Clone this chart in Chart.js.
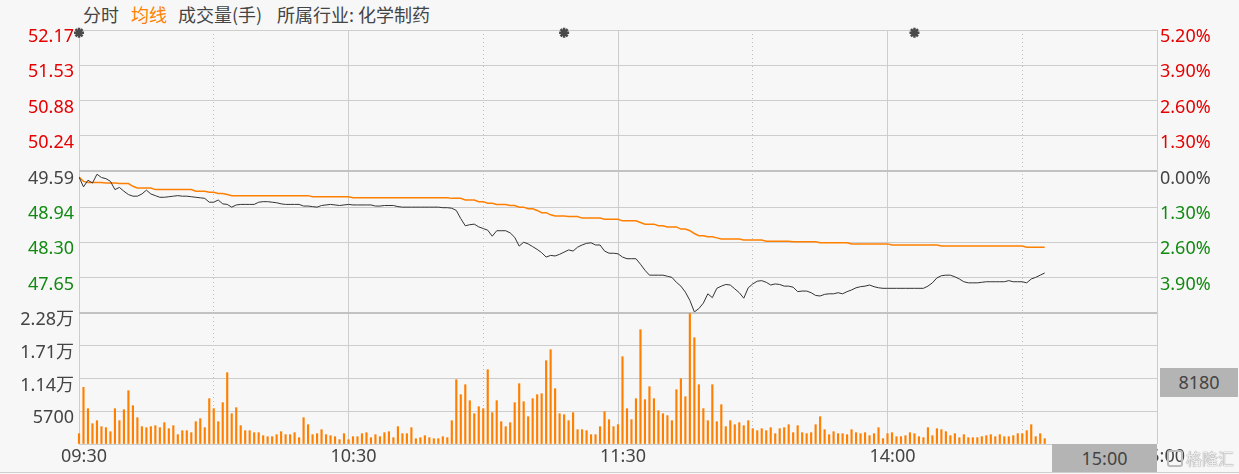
<!DOCTYPE html>
<html>
<head>
<meta charset="utf-8">
<script src="https://cdn.jsdelivr.net/npm/chart.js@4.4.1/dist/chart.umd.min.js"></script>
<style>
body { margin: 0; background: #f7f7f7; width: 1239px; height: 474px; overflow: hidden; position: relative; font-family: "Noto Sans", "Noto Sans CJK SC", sans-serif; }
.lg { position: absolute; top: 4px; line-height: 20px; font-size: 18px; color: #444; font-family: "Noto Sans CJK SC", sans-serif; white-space: nowrap; }
canvas { position: absolute; left: 0; }
#priceCanvas { top: 0; }
#volCanvas { top: 303px; }
.box { position: absolute; background: #b4b4b4; color: #444; font-size: 18px; text-align: center; }
#markIcon { position: absolute; left: 1167px; top: 450px; width: 12px; height: 13px; border: 2px solid #bcbcbc; border-radius: 3px; }
#mark { position: absolute; left: 1186px; top: 446px; line-height: 24px; font-size: 16px; color: #eeeeee; text-shadow: 0 0 1px #8f8f8f, 0 0 1px #8f8f8f; font-family: "Noto Sans CJK SC", sans-serif; }
#bottomLine { position: absolute; left: 0; top: 472px; width: 1239px; height: 1px; background: #d0d0d0; }
</style>
</head>
<body>
<div class="lg" style="left:83px">分时</div>
<div class="lg" style="left:131px;color:#ff8000">均线</div>
<div class="lg" style="left:178px">成交量(手)</div>
<div class="lg" style="left:277px">所属行业: 化学制药</div>
<canvas id="priceCanvas" width="1239" height="314"></canvas>
<canvas id="volCanvas" width="1239" height="171"></canvas>
<div id="bottomLine"></div>
<div class="box" style="left:1160px;top:368px;width:78px;height:29px;line-height:29px">8180</div>
<div class="box" style="left:1052px;top:444px;width:105px;height:28px;line-height:28px">15:00</div>
<div id="markIcon"></div>
<div id="mark">格隆汇</div>
<script>
// time axis (minutes since 09:30, lunch break removed)
const minuteTicks = [0, 60, 120, 180, 240];
const halfHourTicks = [30, 90, 150, 210];
const timeLabels = ['09:30', '10:30', '11:30', '14:00', '15:00'];

const priceTicks = [52.17, 51.53, 50.88, 50.24, 49.59, 48.94, 48.30, 47.65, 47.01];
const pctLabels = ['5.20%', '3.90%', '2.60%', '1.30%', '0.00%', '1.30%', '2.60%', '3.90%', ''];
const volTicks = [22800, 17100, 11400, 5700, 0];
const volLabels = ['2.28万', '1.71万', '1.14万', '5700', ''];
const eventMinutes = [0, 108, 186];

const prices = [
    49.49, 49.31, 49.43, 49.38, 49.54, 49.48, 49.46, 49.41, 49.26, 49.30,
    49.23, 49.17, 49.14, 49.14, 49.18, 49.25, 49.18, 49.15, 49.12, 49.12,
    49.13, 49.14, 49.15, 49.14, 49.14, 49.13, 49.12, 49.11, 49.10, 49.03,
    49.03, 49.07, 49.00, 48.99, 48.94, 48.98, 48.99, 48.99, 48.99, 48.99,
    49.03, 49.04, 49.04, 49.03, 49.02, 49.00, 48.99, 48.99, 48.99, 48.99,
    48.96, 48.96, 48.95, 48.94, 48.97, 48.98, 48.99, 48.98, 48.97, 48.98,
    48.99, 48.98, 48.98, 48.98, 48.98, 48.98, 48.96, 48.96, 48.97, 48.97,
    48.97, 48.95, 48.94, 48.94, 48.94, 48.94, 48.94, 48.94, 48.94, 48.94,
    48.94, 48.93, 48.93, 48.92, 48.88, 48.73, 48.60, 48.62, 48.63, 48.58,
    48.55, 48.52, 48.41, 48.51, 48.51, 48.51, 48.47, 48.39, 48.23, 48.30,
    48.27, 48.22, 48.17, 48.11, 48.03, 48.06, 48.05, 48.08, 48.12, 48.16,
    48.14, 48.21, 48.25, 48.28, 48.29, 48.25, 48.25, 48.14, 48.10, 48.10,
    48.09, 48.03, 48.00, 48.00, 48.00, 47.90, 47.79, 47.70, 47.70, 47.70,
    47.70, 47.68, 47.66, 47.57, 47.50, 47.39, 47.24, 47.03, 47.09, 47.19,
    47.36, 47.29, 47.46, 47.50, 47.53, 47.52, 47.45, 47.38, 47.28, 47.47,
    47.54, 47.59, 47.60, 47.57, 47.52, 47.54, 47.53, 47.50, 47.50, 47.48,
    47.40, 47.41, 47.41, 47.38, 47.33, 47.32, 47.35, 47.36, 47.36, 47.38,
    47.36, 47.40, 47.43, 47.47, 47.49, 47.50, 47.52, 47.49, 47.47, 47.46,
    47.46, 47.46, 47.46, 47.46, 47.46, 47.46, 47.46, 47.46, 47.46, 47.50,
    47.56, 47.65, 47.69, 47.70, 47.70, 47.67, 47.63, 47.58, 47.56, 47.56,
    47.56, 47.57, 47.58, 47.58, 47.58, 47.58, 47.58, 47.60, 47.58, 47.58,
    47.58, 47.56, 47.63, 47.66, 47.70, 47.74
];

const avgPrices = [
    49.49, 49.41, 49.39, 49.39, 49.39, 49.39, 49.38, 49.38, 49.38, 49.37,
    49.37, 49.37, 49.32, 49.29, 49.29, 49.29, 49.29, 49.26, 49.26, 49.26,
    49.26, 49.26, 49.26, 49.26, 49.26, 49.26, 49.23, 49.23, 49.23, 49.21,
    49.21, 49.19, 49.19, 49.17, 49.15, 49.15, 49.15, 49.15, 49.15, 49.15,
    49.15, 49.15, 49.15, 49.15, 49.15, 49.15, 49.15, 49.15, 49.15, 49.15,
    49.15, 49.15, 49.13, 49.13, 49.13, 49.13, 49.13, 49.13, 49.13, 49.13,
    49.13, 49.11, 49.11, 49.11, 49.11, 49.11, 49.11, 49.11, 49.11, 49.11,
    49.11, 49.11, 49.11, 49.11, 49.11, 49.11, 49.11, 49.11, 49.11, 49.11,
    49.11, 49.11, 49.11, 49.10, 49.10, 49.10, 49.07, 49.07, 49.07, 49.04,
    49.04, 49.01, 49.01, 48.99, 48.99, 48.99, 48.97, 48.97, 48.94, 48.94,
    48.91, 48.91, 48.88, 48.84, 48.84, 48.80, 48.78, 48.78, 48.78, 48.77,
    48.77, 48.77, 48.74, 48.74, 48.74, 48.74, 48.74, 48.72, 48.72, 48.72,
    48.72, 48.69, 48.69, 48.69, 48.69, 48.66, 48.63, 48.63, 48.63, 48.60,
    48.60, 48.58, 48.58, 48.58, 48.54, 48.54, 48.51, 48.46, 48.42, 48.42,
    48.40, 48.40, 48.38, 48.36, 48.36, 48.36, 48.36, 48.36, 48.34, 48.34,
    48.34, 48.34, 48.34, 48.32, 48.32, 48.32, 48.32, 48.32, 48.32, 48.31,
    48.31, 48.31, 48.31, 48.31, 48.31, 48.29, 48.29, 48.29, 48.29, 48.29,
    48.29, 48.29, 48.27, 48.27, 48.27, 48.27, 48.27, 48.27, 48.27, 48.27,
    48.27, 48.25, 48.25, 48.25, 48.25, 48.25, 48.25, 48.25, 48.25, 48.25,
    48.25, 48.25, 48.23, 48.23, 48.23, 48.23, 48.23, 48.23, 48.23, 48.23,
    48.23, 48.23, 48.23, 48.23, 48.23, 48.23, 48.23, 48.23, 48.23, 48.23,
    48.23, 48.21, 48.21, 48.21, 48.21, 48.21
];

const volumes = [
    1798, 9860, 6148, 3538, 4060, 3016, 2842, 2146, 6148, 4060,
    5974, 9280, 6670, 4582, 3016, 2842, 3016, 3190, 2842, 3712,
    2668, 3190, 1624, 2320, 2320, 1972, 3886, 4408, 2842, 7888,
    6148, 3886, 7192, 12412, 5278, 6322, 3190, 2320, 2320, 1972,
    1972, 1450, 1276, 1276, 1624, 2146, 1624, 1624, 1972, 1102,
    4582, 3364, 1624, 1798, 2494, 1624, 1450, 1276, 754, 1798,
    754, 1276, 1276, 1798, 1972, 1102, 1624, 1276, 1972, 2146,
    1102, 3016, 1798, 1798, 2842, 928, 1102, 1450, 1102, 928,
    928, 1276, 1102, 4060, 11194, 8584, 10324, 7540, 5278, 6496,
    6148, 12934, 5452, 7540, 3886, 3016, 3712, 7192, 10498, 7366,
    4756, 7888, 8584, 8758, 14500, 16414, 9628, 5278, 5104, 4060,
    5452, 2494, 2494, 2320, 1624, 1624, 3016, 5626, 4234, 3016,
    3364, 15196, 6148, 4234, 7888, 19894, 7714, 9976, 7888, 5800,
    5278, 4930, 4060, 9454, 11368, 8236, 22700, 18502, 10324, 6148,
    4060, 10324, 3886, 6844, 3016, 4060, 3364, 3712, 3190, 4060,
    2668, 2320, 2668, 2320, 2842, 1798, 2668, 2842, 3364, 1972,
    3190, 1972, 1798, 1972, 3364, 4756, 2494, 1624, 2146, 1798,
    1798, 1624, 2494, 1972, 1798, 1972, 1450, 1798, 2842, 928,
    1798, 1972, 1276, 1276, 1450, 1972, 1798, 1276, 1102, 2842,
    1450, 2668, 2494, 2146, 1450, 1798, 1102, 1624, 1102, 1102,
    1102, 1276, 1450, 1624, 1276, 1624, 1276, 1276, 1450, 1798,
    1798, 2320, 3364, 1276, 1798, 928
];

const tickFont = { family: '"Noto Sans", "Noto Sans CJK SC", sans-serif', size: 18 };
const gridColor = '#cdcdcd';
const boldGrid = '#c2c2c2';

function fixWidth(w) {
    return scale => { scale.width = w; scale.paddingTop = 0; scale.paddingBottom = 0; };
}
function fixHeight(h) {
    return scale => { scale.height = h; scale.paddingLeft = 0; scale.paddingRight = 0; };
}
function setTicks(values) {
    return scale => { scale.ticks = values.slice().sort((a, b) => a - b).map(v => ({ value: v })); };
}
function priceColor(value) {
    const i = priceTicks.indexOf(value);
    if (i < 4) return '#e60000';
    if (i === 4) return '#444';
    return '#128a12';
}

// x axes shared by both panels: solid hour lines + dotted half hours
function timeAxis(showLabels, height) {
    return {
        type: 'linear', min: 0, max: 240, offset: false,
        afterBuildTicks: setTicks(minuteTicks),
        afterFit: fixHeight(height),
        ticks: {
            display: showLabels, autoSkip: false, maxRotation: 0, padding: 2, labelOffset: 5,
            color: '#444', font: tickFont,
            callback: v => timeLabels[minuteTicks.indexOf(v)]
        },
        grid: { color: gridColor, drawTicks: false, offset: false },
        border: { display: false }
    };
}
const dottedAxis = {
    type: 'linear', min: 0, max: 240, offset: false,
    afterBuildTicks: setTicks(halfHourTicks),
    afterFit: fixHeight(0),
    ticks: { display: false },
    grid: { color: '#bdbdbd', drawTicks: false, offset: false },
    border: { display: false, dash: [1, 3] }
};

new Chart(document.getElementById('priceCanvas'), {
    type: 'line',
    data: {
        datasets: [{
            label: '分时',
            data: prices.map((p, i) => ({ x: i, y: p })),
            borderColor: '#333',
            borderWidth: 1,
            pointRadius: 0,
            tension: 0
        }, {
            label: '均线',
            data: avgPrices.map((p, i) => ({ x: i, y: p })),
            borderColor: '#ff8000',
            borderWidth: 1.5,
            pointRadius: 0,
            tension: 0
        }, {
            type: 'scatter',
            data: eventMinutes.map(m => ({ x: m, y: priceTicks[0] - 0.05 })),
            pointStyle: 'star',
            pointRadius: 5,
            borderColor: '#4a4a4a',
            borderWidth: 2.5,
            clip: false
        }]
    },
    options: {
        responsive: false,
        animation: false,
        layout: { autoPadding: false, padding: { top: 30, bottom: 1, left: 0, right: 0 } },
        plugins: { legend: { display: false }, tooltip: { enabled: false } },
        scales: {
            x: timeAxis(false, 0),
            x2: dottedAxis,
            y: {
                position: 'left',
                min: priceTicks[priceTicks.length - 1],
                max: priceTicks[0],
                afterBuildTicks: setTicks(priceTicks),
                afterFit: fixWidth(79),
                ticks: {
                    autoSkip: false, padding: 5, labelOffset: 7, font: tickFont,
                    color: ctx => priceColor(ctx.tick.value),
                    callback: v => (v === priceTicks[priceTicks.length - 1] ? '' : v.toFixed(2))
                },
                grid: {
                    drawTicks: false,
                    color: ctx => (ctx.tick.value === priceTicks[4] || ctx.index === 0 ? boldGrid : gridColor),
                    lineWidth: ctx => (ctx.tick.value === priceTicks[4] || ctx.index === 0 ? 2 : 1)
                },
                border: { display: false }
            },
            pct: {
                position: 'right',
                min: priceTicks[priceTicks.length - 1],
                max: priceTicks[0],
                afterBuildTicks: setTicks(priceTicks),
                afterFit: fixWidth(82),
                ticks: {
                    autoSkip: false, padding: 3, labelOffset: 7, font: tickFont,
                    color: ctx => priceColor(ctx.tick.value),
                    callback: v => pctLabels[priceTicks.indexOf(v)]
                },
                grid: { display: false, drawTicks: false },
                border: { display: false }
            }
        }
    }
});

new Chart(document.getElementById('volCanvas'), {
    type: 'bar',
    data: {
        datasets: [{
            label: '成交量(手)',
            data: volumes.map((v, i) => ({ x: i, y: v })),
            backgroundColor: '#ff8000',
            barThickness: 1.5,
            clip: false
        }]
    },
    options: {
        responsive: false,
        animation: false,
        layout: { autoPadding: false, padding: { top: 10, bottom: 0, left: 0, right: 82 } },
        plugins: { legend: { display: false }, tooltip: { enabled: false } },
        scales: {
            x: timeAxis(true, 30),
            x2: dottedAxis,
            y: {
                min: 0,
                max: volTicks[0],
                afterBuildTicks: setTicks(volTicks),
                afterFit: fixWidth(79),
                ticks: {
                    autoSkip: false, padding: 5, labelOffset: 7, font: tickFont, color: '#444',
                    callback: v => volLabels[volTicks.indexOf(v)]
                },
                grid: {
                    drawTicks: false,
                    color: ctx => (ctx.tick.value === volTicks[0] ? boldGrid : gridColor),
                    lineWidth: ctx => (ctx.tick.value === volTicks[0] ? 2 : 1)
                },
                border: { display: false }
            }
        }
    }
});
</script>
</body>
</html>
